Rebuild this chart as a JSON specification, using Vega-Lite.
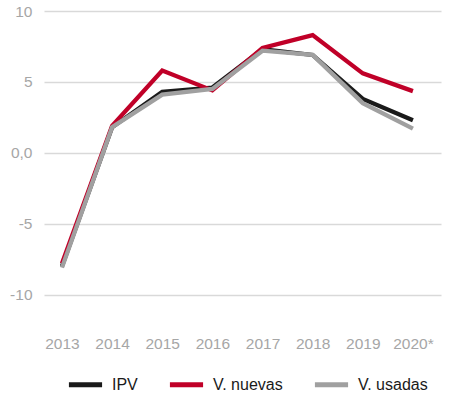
{
  "$schema": "https://vega.github.io/schema/vega-lite/v6.json",
  "width": 397,
  "height": 319,
  "autosize": "none",
  "padding": {"left": 44, "top": 11, "right": 9, "bottom": 65},
  "background": "white",
  "config": {
    "view": {"stroke": null},
    "font": "Liberation Sans"
  },
  "data": {
    "values": [
      {"year": "2013", "serie": "IPV", "v": -8.0},
      {"year": "2014", "serie": "IPV", "v": 1.8},
      {"year": "2015", "serie": "IPV", "v": 4.3},
      {"year": "2016", "serie": "IPV", "v": 4.6},
      {"year": "2017", "serie": "IPV", "v": 7.3},
      {"year": "2018", "serie": "IPV", "v": 6.9},
      {"year": "2019", "serie": "IPV", "v": 3.8},
      {"year": "2020*", "serie": "IPV", "v": 2.3},
      {"year": "2013", "serie": "V. nuevas", "v": -7.8},
      {"year": "2014", "serie": "V. nuevas", "v": 1.9},
      {"year": "2015", "serie": "V. nuevas", "v": 5.8},
      {"year": "2016", "serie": "V. nuevas", "v": 4.4},
      {"year": "2017", "serie": "V. nuevas", "v": 7.4},
      {"year": "2018", "serie": "V. nuevas", "v": 8.3},
      {"year": "2019", "serie": "V. nuevas", "v": 5.6},
      {"year": "2020*", "serie": "V. nuevas", "v": 4.35},
      {"year": "2013", "serie": "V. usadas", "v": -8.1},
      {"year": "2014", "serie": "V. usadas", "v": 1.8},
      {"year": "2015", "serie": "V. usadas", "v": 4.1},
      {"year": "2016", "serie": "V. usadas", "v": 4.5},
      {"year": "2017", "serie": "V. usadas", "v": 7.2},
      {"year": "2018", "serie": "V. usadas", "v": 6.9},
      {"year": "2019", "serie": "V. usadas", "v": 3.5},
      {"year": "2020*", "serie": "V. usadas", "v": 1.7}
    ]
  },
  "mark": {"type": "line", "strokeWidth": 4.3, "strokeJoin": "miter", "strokeCap": "butt"},
  "encoding": {
    "x": {
      "field": "year",
      "type": "ordinal",
      "scale": {"type": "point", "padding": 0.459, "align": 0.39},
      "axis": {
        "title": null,
        "domain": false,
        "ticks": false,
        "labelAngle": 0,
        "labelFontSize": 15.5,
        "labelColor": "#a6a6a6",
        "labelPadding": 6
      }
    },
    "y": {
      "field": "v",
      "type": "quantitative",
      "scale": {"domain": [-12.5, 10], "nice": false, "zero": false},
      "axis": {
        "title": null,
        "values": [-10, -5, 0, 5, 10],
        "labelExpr": "datum.value == 0 ? '0,0' : datum.value",
        "domain": false,
        "ticks": false,
        "labelFontSize": 15.5,
        "labelColor": "#a6a6a6",
        "labelPadding": 12,
        "gridColor": "#d9d9d9",
        "gridWidth": 1.5
      }
    },
    "color": {
      "field": "serie",
      "type": "nominal",
      "scale": {
        "domain": ["IPV", "V. nuevas", "V. usadas"],
        "range": ["#1a1a1a", "#c00028", "#a0a0a0"]
      },
      "legend": {
        "title": null,
        "orient": "none",
        "direction": "horizontal",
        "legendX": 22,
        "legendY": 354,
        "symbolType": "stroke",
        "symbolSize": 1100,
        "symbolStrokeWidth": 5,
        "labelFontSize": 16,
        "labelColor": "#1a1a1a",
        "labelOffset": 7,
        "columnPadding": 21
      }
    }
  }
}
